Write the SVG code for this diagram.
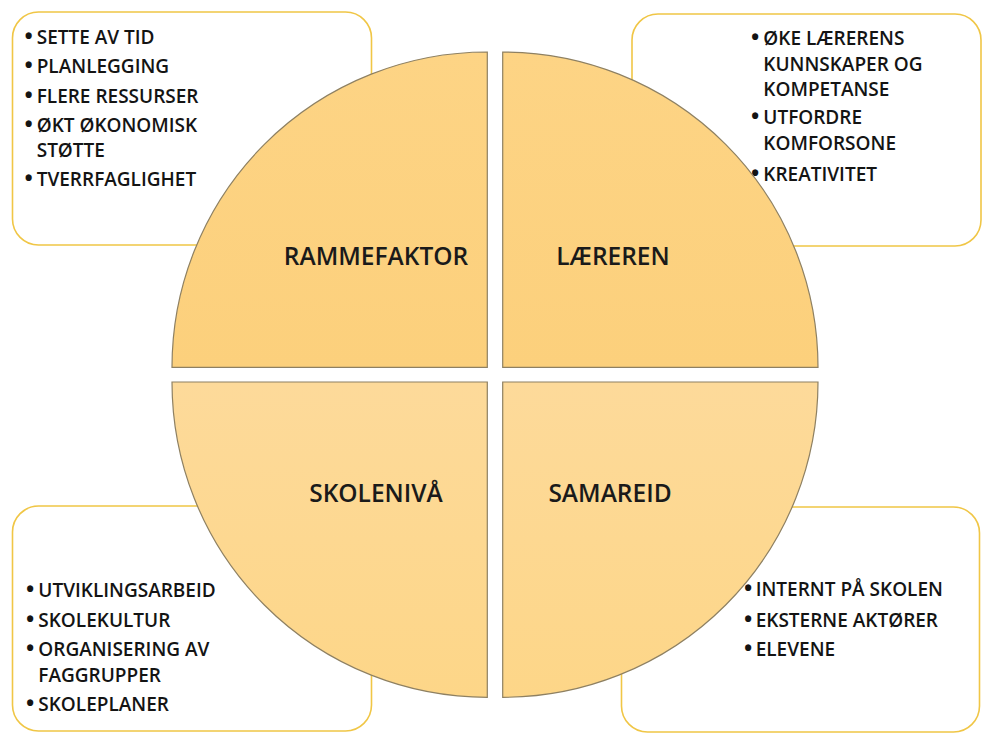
<svg xmlns="http://www.w3.org/2000/svg" width="982" height="735" viewBox="0 0 982 735">
<defs>
<linearGradient id="gTop" x1="0" y1="0" x2="0" y2="1">
<stop offset="0" stop-color="#FDD485"/>
<stop offset="1" stop-color="#FCD07C"/>
</linearGradient>
<linearGradient id="gBot" x1="0" y1="0" x2="0" y2="1">
<stop offset="0" stop-color="#FDDA9A"/>
<stop offset="1" stop-color="#FDD688"/>
</linearGradient>
<style>
.box{fill:#FFFFFF;stroke:#F0C646;stroke-width:1.6}
.qt{fill:url(#gTop);stroke:#8E8062;stroke-width:1.2}
.qb{fill:url(#gBot);stroke:#8E8062;stroke-width:1.2}
.lbl{font-family:"Open Sans","Liberation Sans",sans-serif;font-size:24.5px;font-weight:600;fill:#1A1A1A;text-anchor:middle}
.itm{font-family:"Open Sans","Liberation Sans",sans-serif;font-size:19px;font-weight:600;fill:#141414}
.bul{font-size:22px;font-weight:700}
</style>
</defs>
<g id="box-rammefaktor">
<rect class="box" x="12.5" y="12" width="359" height="233" rx="26"/>
<text class="itm" x="24.5" y="43.5"><tspan class="bul">•</tspan><tspan x="36.7">SETTE AV TID</tspan></text>
<text class="itm" x="24.5" y="73"><tspan class="bul">•</tspan><tspan x="36.7">PLANLEGGING</tspan></text>
<text class="itm" x="24.5" y="102.5"><tspan class="bul">•</tspan><tspan x="36.7">FLERE RESSURSER</tspan></text>
<text class="itm" x="24.5" y="132"><tspan class="bul">•</tspan><tspan x="36.7">ØKT ØKONOMISK</tspan></text>
<text class="itm" x="36.7" y="156.5">STØTTE</text>
<text class="itm" x="24.5" y="186"><tspan class="bul">•</tspan><tspan x="36.7">TVERRFAGLIGHET</tspan></text>
</g>
<g id="box-laereren">
<rect class="box" x="632" y="14" width="349" height="232" rx="26"/>
<text class="itm" x="751" y="45"><tspan class="bul">•</tspan><tspan x="763.3">ØKE LÆRERENS</tspan></text>
<text class="itm" x="763.3" y="70.5">KUNNSKAPER OG</text>
<text class="itm" x="763.3" y="96">KOMPETANSE</text>
<text class="itm" x="751" y="124.3"><tspan class="bul">•</tspan><tspan x="763.3">UTFORDRE</tspan></text>
<text class="itm" x="763.3" y="150">KOMFORSONE</text>
<text class="itm" x="751" y="180.5"><tspan class="bul">•</tspan><tspan x="763.3">KREATIVITET</tspan></text>
</g>
<g id="box-skoleniva">
<rect class="box" x="12.5" y="506" width="359" height="225" rx="26"/>
<text class="itm" x="26" y="597.3"><tspan class="bul">•</tspan><tspan x="38.3">UTVIKLINGSARBEID</tspan></text>
<text class="itm" x="26" y="627.3"><tspan class="bul">•</tspan><tspan x="38.3">SKOLEKULTUR</tspan></text>
<text class="itm" x="26" y="656"><tspan class="bul">•</tspan><tspan x="38.3">ORGANISERING AV</tspan></text>
<text class="itm" x="38.3" y="681.5">FAGGRUPPER</text>
<text class="itm" x="26" y="710.7"><tspan class="bul">•</tspan><tspan x="38.3">SKOLEPLANER</tspan></text>
</g>
<g id="box-samareid">
<rect class="box" x="621.5" y="507" width="358" height="225" rx="26"/>
<text class="itm" x="744" y="596"><tspan class="bul">•</tspan><tspan x="755.7">INTERNT PÅ SKOLEN</tspan></text>
<text class="itm" x="744" y="626.7"><tspan class="bul">•</tspan><tspan x="755.7">EKSTERNE AKTØRER</tspan></text>
<text class="itm" x="744" y="655.7"><tspan class="bul">•</tspan><tspan x="755.7">ELEVENE</tspan></text>
</g>
<g id="q-rammefaktor">
<path class="qt" d="M487.3,367.3 L172,367.3 A315.3,315.3 0 0 1 487.3,52 Z"/>
<text class="lbl" x="376" y="265">RAMMEFAKTOR</text>
</g>
<g id="q-laereren">
<path class="qt" d="M502.7,367.3 L502.7,52 A315.3,315.3 0 0 1 818,367.3 Z"/>
<text class="lbl" x="613" y="265">LÆREREN</text>
</g>
<g id="q-skoleniva">
<path class="qb" d="M487.3,382 L487.3,697.3 A315.3,315.3 0 0 1 172,382 Z"/>
<text class="lbl" x="376" y="502.3">SKOLENIVÅ</text>
</g>
<g id="q-samareid">
<path class="qb" d="M502.7,382 L818,382 A315.3,315.3 0 0 1 502.7,697.3 Z"/>
<text class="lbl" x="610" y="502.3">SAMAREID</text>
</g>
<g id="connectors"></g>
</svg>
